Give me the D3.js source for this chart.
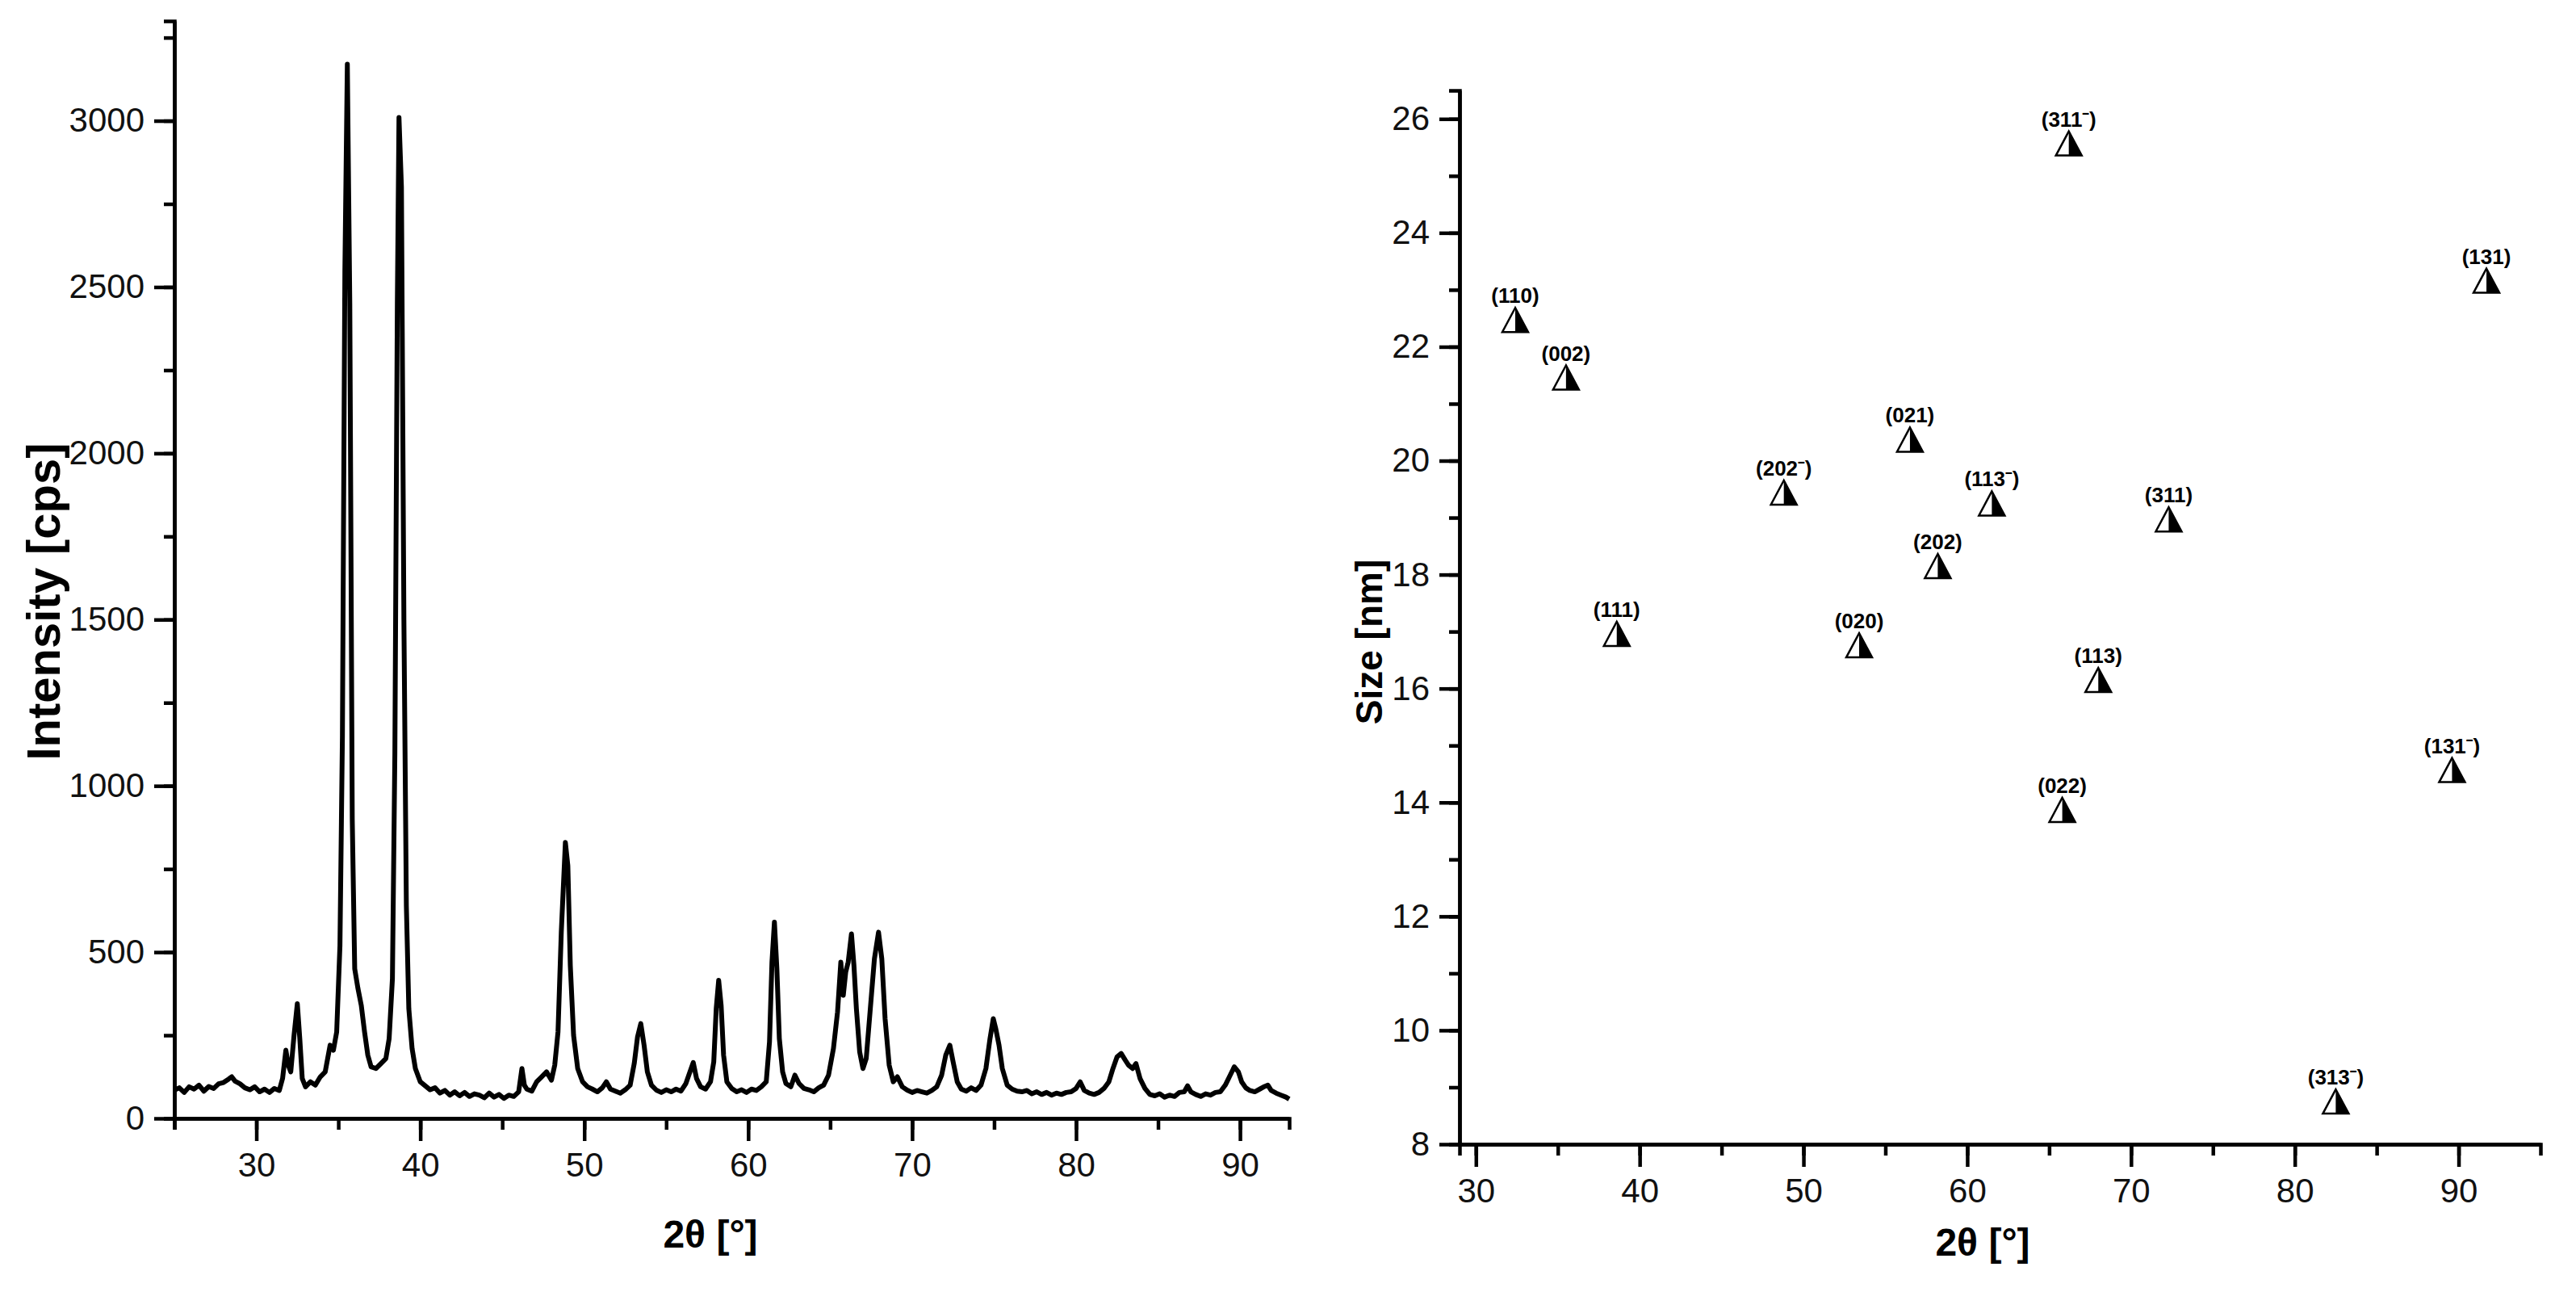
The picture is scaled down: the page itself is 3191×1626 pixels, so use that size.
<!DOCTYPE html>
<html>
<head>
<meta charset="utf-8">
<script src="https://cdn.jsdelivr.net/npm/d3@7"></script>
<style>
  body { margin: 0; background: #fff; }
  svg { font-family: "Liberation Sans", Arial, sans-serif; }
  .axis path, .axis line { stroke: #000; stroke-width: 4.5; }
  .axis text { font-size: 42px; fill: #111; }
</style>
</head>
<body>
<svg id="chart" width="3191" height="1626"></svg>
<script>
// XRD pattern: [2theta, intensity (cps)]
var xrdPoints = [
  [25,85],[25.3,92],[25.6,78],[25.9,95],[26.2,88],[26.5,100],[26.8,82],[27.1,96],[27.4,90],[27.7,104],
  [28,108],[28.3,118],[28.5,125],[28.7,112],[29,104],[29.3,92],[29.6,86],[29.9,95],[30.2,80],[30.5,88],
  [30.8,78],[31.1,90],[31.4,84],[31.6,120],[31.8,205],[31.95,160],[32.1,140],[32.3,250],[32.5,345],[32.65,240],
  [32.8,120],[33,95],[33.3,110],[33.6,100],[33.9,125],[34.2,140],[34.5,220],[34.7,205],[34.9,260],[35.1,520],
  [35.25,1150],[35.4,2550],[35.55,3170],[35.7,2450],[35.85,900],[36,450],[36.2,390],[36.4,340],[36.6,260],[36.8,190],
  [37,155],[37.3,150],[37.6,165],[37.9,180],[38.1,240],[38.3,420],[38.45,1100],[38.6,2450],[38.7,3010],[38.85,2800],
  [39,1500],[39.15,640],[39.3,330],[39.5,210],[39.7,150],[40,110],[40.3,98],[40.6,86],[40.9,92],[41.2,76],
  [41.5,84],[41.8,70],[42.1,80],[42.4,68],[42.7,78],[43,66],[43.3,74],[43.6,70],[43.9,62],[44.2,76],
  [44.5,64],[44.8,72],[45.1,60],[45.4,70],[45.7,66],[46,80],[46.2,150],[46.35,100],[46.5,88],[46.8,82],
  [47.1,110],[47.4,125],[47.7,140],[48,115],[48.2,160],[48.4,260],[48.6,560],[48.85,830],[49,760],[49.15,460],
  [49.35,250],[49.6,150],[49.9,110],[50.2,95],[50.5,88],[50.8,80],[51.1,92],[51.35,110],[51.6,88],[51.9,82],
  [52.2,76],[52.5,86],[52.8,100],[53.05,165],[53.25,245],[53.45,285],[53.65,220],[53.85,140],[54.1,100],[54.4,85],
  [54.7,78],[55,86],[55.3,80],[55.6,88],[55.9,82],[56.2,105],[56.45,140],[56.65,168],[56.85,120],[57.1,95],
  [57.4,88],[57.7,110],[57.9,170],[58.05,330],[58.2,415],[58.35,340],[58.5,190],[58.7,110],[59,90],[59.3,80],
  [59.6,86],[59.9,78],[60.2,88],[60.5,84],[60.8,95],[61.1,110],[61.3,230],[61.45,470],[61.6,590],[61.75,450],
  [61.9,240],[62.1,140],[62.3,105],[62.6,95],[62.85,130],[63.1,105],[63.4,90],[63.7,86],[64,80],[64.3,92],
  [64.6,100],[64.9,130],[65.2,210],[65.45,320],[65.65,470],[65.8,370],[65.95,440],[66.1,470],[66.3,555],[66.45,460],
  [66.6,330],[66.8,200],[67,150],[67.2,180],[67.45,330],[67.7,480],[67.95,560],[68.15,480],[68.35,300],[68.6,160],
  [68.85,110],[69.1,125],[69.4,95],[69.7,85],[70,78],[70.3,84],[70.6,80],[70.9,76],[71.2,84],[71.5,95],
  [71.8,130],[72.05,190],[72.3,220],[72.5,170],[72.75,110],[73,88],[73.3,82],[73.6,92],[73.9,84],[74.2,100],
  [74.5,150],[74.75,240],[74.95,300],[75.1,270],[75.3,220],[75.5,150],[75.8,100],[76.1,88],[76.4,82],[76.7,80],
  [77,84],[77.3,74],[77.6,80],[77.9,72],[78.2,78],[78.5,70],[78.8,76],[79.1,72],[79.4,78],[79.7,80],
  [80,90],[80.25,110],[80.5,84],[80.8,76],[81.1,72],[81.4,78],[81.7,90],[82,110],[82.25,150],[82.5,185],
  [82.75,195],[83,175],[83.2,160],[83.45,150],[83.65,165],[83.9,120],[84.2,90],[84.5,72],[84.8,68],[85.1,74],
  [85.4,64],[85.7,70],[86,66],[86.3,78],[86.6,80],[86.8,98],[87,80],[87.3,72],[87.6,66],[87.9,74],
  [88.2,70],[88.5,78],[88.8,80],[89.1,100],[89.4,130],[89.65,155],[89.9,140],[90.1,110],[90.35,92],[90.6,84],
  [90.9,80],[91.2,88],[91.5,96],[91.7,100],[91.9,84],[92.2,76],[92.5,70],[92.8,64],[93,58]
];

// Crystallite size per reflection
var hkl = ["(110)","(002)","(111)","(202\u02c9)","(020)","(021)","(202)","(113\u02c9)","(311\u02c9)","(022)","(113)","(311)","(313\u02c9)","(131\u02c9)","(131)"];
var hklTheta = [32.4,35.5,38.6,48.8,53.4,56.5,58.2,61.5,66.2,65.8,68.0,72.3,82.5,89.6,91.7];
var sizeNm = [22.47,21.46,16.96,19.44,16.76,20.37,18.15,19.25,25.57,13.87,16.15,18.97,8.75,14.57,23.16];

var svg = d3.select('#chart');

function drawAxes(x, y, xMajor, xMinor, yMajor, yMinor) {
    var gx = svg.append('g').attr('class', 'axis').attr('transform', `translate(0,${y.range()[0]})`);
    gx.call(d3.axisBottom(x).tickValues(xMinor).tickSize(14).tickFormat(''));
    gx.append('g').call(d3.axisBottom(x).tickValues(xMajor).tickSize(28).tickPadding(14).tickSizeOuter(0));
    var gy = svg.append('g').attr('class', 'axis').attr('transform', `translate(${x.range()[0]},0)`);
    gy.call(d3.axisLeft(y).tickValues(yMinor).tickSize(13).tickFormat(''));
    gy.append('g').call(d3.axisLeft(y).tickValues(yMajor).tickSize(25).tickPadding(12).tickFormat(d3.format('d')).tickSizeOuter(0));
}

// ---------- left: XRD pattern ----------
var xL = d3.scaleLinear().domain([25, 93]).range([216, 1597]);
var yL = d3.scaleLinear().domain([0, 3300]).range([1385, 26]);

drawAxes(xL, yL, d3.range(30, 91, 10), d3.range(25, 94, 5), d3.range(0, 3001, 500), d3.range(0, 3300, 250));

svg.append('path')
    .datum(xrdPoints)
    .attr('fill', 'none')
    .attr('stroke', '#000')
    .attr('stroke-width', 6)
    .attr('stroke-linejoin', 'round')
    .attr('d', d3.line().x(d => xL(d[0])).y(d => yL(d[1])));

svg.append('text')
    .attr('transform', 'translate(74,745) rotate(-90)')
    .attr('text-anchor', 'middle')
    .style('font-size', '58px').style('font-weight', 'bold')
    .text('Intensity [cps]');

svg.append('text')
    .attr('x', 880).attr('y', 1545)
    .attr('text-anchor', 'middle')
    .style('font-size', '48px').style('font-weight', 'bold')
    .text('2\u03b8 [\u00b0]');

// ---------- right: crystallite size ----------
var xR = d3.scaleLinear().domain([29, 95]).range([1808, 3147]);
var yR = d3.scaleLinear().domain([8, 26.5]).range([1417, 112]);

drawAxes(xR, yR, d3.range(30, 91, 10), d3.range(30, 95, 5), d3.range(8, 27, 2), d3.range(8, 27, 1));

var pts = hkl.map((h, i) => ({ h: h, x: hklTheta[i], y: sizeNm[i] }));
var mk = svg.append('g').selectAll('g').data(pts).enter().append('g')
    .attr('transform', d => `translate(${xR(d.x)},${yR(d.y)})`);
// left half white, right half black
mk.append('path').attr('d', 'M0,-15 L-16,15 L0,15 Z').attr('fill', '#fff');
mk.append('path').attr('d', 'M0,-15 L16,15 L0,15 Z').attr('fill', '#000');
mk.append('path').attr('d', 'M0,-15 L-16,15 L16,15 Z')
    .attr('fill', 'none').attr('stroke', '#000').attr('stroke-width', 2.5);
mk.append('text')
    .attr('y', -21)
    .attr('text-anchor', 'middle')
    .style('font-size', '26px').style('font-weight', 'bold')
    .text(d => d.h);

svg.append('text')
    .attr('transform', 'translate(1712,795) rotate(-90)')
    .attr('text-anchor', 'middle')
    .style('font-size', '46px').style('font-weight', 'bold')
    .text('Size [nm]');

svg.append('text')
    .attr('x', 2456).attr('y', 1555)
    .attr('text-anchor', 'middle')
    .style('font-size', '48px').style('font-weight', 'bold')
    .text('2\u03b8 [\u00b0]');
</script>
</body>
</html>
